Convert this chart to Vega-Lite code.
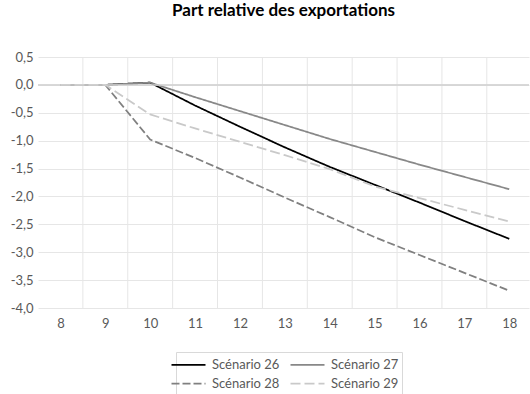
{
  "$schema": "https://vega.github.io/schema/vega-lite/v6.json",
  "width": 491,
  "height": 251,
  "autosize": "none",
  "padding": {"left": 38, "top": 57, "right": 1, "bottom": 86},
  "background": "white",
  "title": {"text": "Part relative des exportations", "font": "Lato", "fontSize": 17, "fontWeight": "bold", "color": "#000000", "anchor": "middle", "frame": "group", "offset": 31},
  "config": {
    "view": {"stroke": null},
    "axis": {"labelFont": "Lato", "labelFontSize": 13, "labelColor": "#595959", "domain": false, "ticks": false, "tickSize": 0, "title": null}
  },
  "datasets": {
    "grid": [{"x": 8.5}, {"x": 9.5}, {"x": 10.5}, {"x": 11.5}, {"x": 12.5}, {"x": 13.5}, {"x": 14.5}, {"x": 15.5}, {"x": 16.5}, {"x": 17.5}],
    "zero": [{"y": 0}],
    "series": [
      {"year": 8, "scenario": "Scénario 26", "value": 0},
      {"year": 9, "scenario": "Scénario 26", "value": 0},
      {"year": 10, "scenario": "Scénario 26", "value": 0.04},
      {"year": 11, "scenario": "Scénario 26", "value": -0.37},
      {"year": 12, "scenario": "Scénario 26", "value": -0.75},
      {"year": 13, "scenario": "Scénario 26", "value": -1.12},
      {"year": 14, "scenario": "Scénario 26", "value": -1.47},
      {"year": 15, "scenario": "Scénario 26", "value": -1.79},
      {"year": 16, "scenario": "Scénario 26", "value": -2.11},
      {"year": 17, "scenario": "Scénario 26", "value": -2.44},
      {"year": 18, "scenario": "Scénario 26", "value": -2.76},
      {"year": 8, "scenario": "Scénario 27", "value": 0},
      {"year": 9, "scenario": "Scénario 27", "value": 0},
      {"year": 10, "scenario": "Scénario 27", "value": 0.04},
      {"year": 11, "scenario": "Scénario 27", "value": -0.22},
      {"year": 12, "scenario": "Scénario 27", "value": -0.47},
      {"year": 13, "scenario": "Scénario 27", "value": -0.72},
      {"year": 14, "scenario": "Scénario 27", "value": -0.97},
      {"year": 15, "scenario": "Scénario 27", "value": -1.2},
      {"year": 16, "scenario": "Scénario 27", "value": -1.43},
      {"year": 17, "scenario": "Scénario 27", "value": -1.65},
      {"year": 18, "scenario": "Scénario 27", "value": -1.87},
      {"year": 8, "scenario": "Scénario 28", "value": 0},
      {"year": 9, "scenario": "Scénario 28", "value": 0},
      {"year": 10, "scenario": "Scénario 28", "value": -0.98},
      {"year": 11, "scenario": "Scénario 28", "value": -1.31},
      {"year": 12, "scenario": "Scénario 28", "value": -1.66},
      {"year": 13, "scenario": "Scénario 28", "value": -2.02},
      {"year": 14, "scenario": "Scénario 28", "value": -2.37},
      {"year": 15, "scenario": "Scénario 28", "value": -2.73},
      {"year": 16, "scenario": "Scénario 28", "value": -3.05},
      {"year": 17, "scenario": "Scénario 28", "value": -3.37},
      {"year": 18, "scenario": "Scénario 28", "value": -3.69},
      {"year": 8, "scenario": "Scénario 29", "value": 0},
      {"year": 9, "scenario": "Scénario 29", "value": 0},
      {"year": 10, "scenario": "Scénario 29", "value": -0.53},
      {"year": 11, "scenario": "Scénario 29", "value": -0.78},
      {"year": 12, "scenario": "Scénario 29", "value": -1.02},
      {"year": 13, "scenario": "Scénario 29", "value": -1.26},
      {"year": 14, "scenario": "Scénario 29", "value": -1.51},
      {"year": 15, "scenario": "Scénario 29", "value": -1.82},
      {"year": 16, "scenario": "Scénario 29", "value": -2.03},
      {"year": 17, "scenario": "Scénario 29", "value": -2.24},
      {"year": 18, "scenario": "Scénario 29", "value": -2.45}
    ]
  },
  "layer": [
    {
      "data": {"name": "grid"},
      "mark": {"type": "rule", "color": "#e6e6e6", "strokeWidth": 1},
      "encoding": {
        "x": {"field": "x", "type": "quantitative", "scale": {"domain": [7.5, 18.44], "nice": false, "zero": false},
              "axis": {"values": [8, 9, 10, 11, 12, 13, 14, 15, 16, 17, 18], "format": "d", "grid": false, "labelPadding": 9}}
      }
    },
    {
      "data": {"name": "zero"},
      "mark": {"type": "rule", "color": "#e6e6e6", "strokeWidth": 1},
      "encoding": {
        "y": {"field": "y", "type": "quantitative", "scale": {"domain": [-4, 0.5], "nice": false, "zero": false},
              "axis": {"values": [-4, -3.5, -3, -2.5, -2, -1.5, -1, -0.5, 0, 0.5], "grid": true, "gridColor": "#e6e6e6", "labelPadding": 5,
                       "labelExpr": "replace(replace(format(datum.value, '.1f'), '.', ','), '−', '-')"}}
      }
    },
    {
      "data": {"name": "series"},
      "mark": {"type": "line", "strokeWidth": 1.75},
      "encoding": {
        "x": {"field": "year", "type": "quantitative", "scale": {"domain": [7.5, 18.44], "nice": false, "zero": false},
              "axis": {"values": [8, 9, 10, 11, 12, 13, 14, 15, 16, 17, 18], "format": "d", "grid": false, "labelPadding": 9}},
        "y": {"field": "value", "type": "quantitative", "scale": {"domain": [-4, 0.5], "nice": false, "zero": false},
              "axis": {"values": [-4, -3.5, -3, -2.5, -2, -1.5, -1, -0.5, 0, 0.5], "grid": true, "gridColor": "#e6e6e6", "labelPadding": 5,
                       "labelExpr": "replace(replace(format(datum.value, '.1f'), '.', ','), '−', '-')"}},
        "color": {"field": "scenario", "type": "nominal",
                  "scale": {"domain": ["Scénario 26", "Scénario 27", "Scénario 28", "Scénario 29"], "range": ["#000000", "#888888", "#808080", "#c9c9c9"]},
                  "legend": {"orient": "none", "legendX": 138, "legendY": 295, "direction": "horizontal", "columns": 2, "title": null, "symbolType": "M-2,0L2,0", "symbolSize": 289, "symbolStrokeWidth": 1.75,
                             "strokeColor": "#d9d9d9", "padding": 3, "labelFont": "Lato", "labelFontSize": 13, "labelColor": "#595959", "columnPadding": 7, "rowPadding": 2, "labelOffset": 14}},
        "strokeDash": {"field": "scenario", "type": "nominal",
                       "scale": {"domain": ["Scénario 26", "Scénario 27", "Scénario 28", "Scénario 29"], "range": [[1, 0], [1, 0], [8, 3], [10, 4]]},
                       "legend": {"orient": "none", "legendX": 138, "legendY": 295, "direction": "horizontal", "columns": 2, "title": null, "symbolType": "M-2,0L2,0", "symbolSize": 289, "symbolStrokeWidth": 1.75,
                                  "strokeColor": "#d9d9d9", "padding": 3, "labelFont": "Lato", "labelFontSize": 13, "labelColor": "#595959", "columnPadding": 7, "rowPadding": 2, "labelOffset": 14}}
      }
    },
    {
      "data": {"name": "zero"},
      "mark": {"type": "rule", "color": "#d0d0d0", "strokeWidth": 1.5},
      "encoding": {
        "y": {"field": "y", "type": "quantitative", "scale": {"domain": [-4, 0.5], "nice": false, "zero": false},
              "axis": {"values": [-4, -3.5, -3, -2.5, -2, -1.5, -1, -0.5, 0, 0.5], "grid": true, "gridColor": "#e6e6e6", "labelPadding": 5,
                       "labelExpr": "replace(replace(format(datum.value, '.1f'), '.', ','), '−', '-')"}}
      }
    }
  ]
}
